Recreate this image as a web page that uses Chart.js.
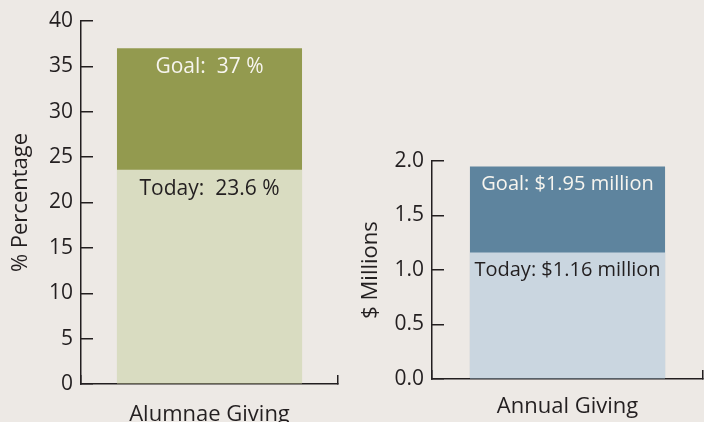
<!DOCTYPE html>
<html>
<head>
<meta charset="utf-8">
<script src="https://cdn.jsdelivr.net/npm/chart.js@4.4.0/dist/chart.umd.min.js"></script>
<style>
  html, body { margin: 0; padding: 0; background: #ede9e5; overflow: hidden; }
  #wrap { position: relative; width: 704px; height: 422px; }
  canvas { position: absolute; top: 0; }
  #alumnaeChart { left: 0; }
  #annualChart { left: 350px; }
</style>
</head>
<body>
<div id="wrap">
  <canvas id="alumnaeChart" width="350" height="422"></canvas>
  <canvas id="annualChart" width="354" height="422"></canvas>
</div>
<script>
// left panel
const alumnaeCategories = ['Alumnae Giving'];
const alumnaeToday = [23.6];
const alumnaeGoal = [37];
const alumnaeText = ['Today:  23.6 %', 'Goal:  37 %'];
const pctTicks = [0, 5, 10, 15, 20, 25, 30, 35, 40];

// right panel
const annualCategories = ['Annual Giving'];
const annualToday = [1.16];
const annualGoal = [1.95];
const annualText = ['Today: $1.16 million', 'Goal: $1.95 million'];
const millionTicks = [0, 0.5, 1, 1.5, 2];

const FONT = "'Open Sans', sans-serif";
const INK = '#231f20';

Chart.defaults.font.family = FONT;
Chart.defaults.color = INK;

// writes the Today/Goal text just under the top of each bar
const barText = {
    id: 'barText',
    afterDatasetsDraw(chart, args, opts) {
        const ctx = chart.ctx;
        ctx.save();
        ctx.font = opts.size + 'px ' + FONT;
        ctx.textAlign = 'center';
        ctx.textBaseline = 'middle';
        chart.data.datasets.forEach((ds, i) => {
            const bar = chart.getDatasetMeta(i).data[0];
            ctx.fillStyle = ds.textColor;
            ctx.fillText(ds.label, bar.x, bar.y + opts.offset);
        });
        ctx.restore();
    }
};

function makeChart(id, cfg) {
    return new Chart(document.getElementById(id), {
        type: 'bar',
        data: {
            labels: cfg.categories,
            datasets: [{
                label: cfg.text[0],
                data: cfg.today,
                backgroundColor: cfg.colors[0],
                textColor: INK,
                barPercentage: 0.72,
                categoryPercentage: 1
            }, {
                label: cfg.text[1],
                data: cfg.goal,
                backgroundColor: cfg.colors[1],
                textColor: '#f7f5ef',
                barPercentage: 0.72,
                categoryPercentage: 1
            }]
        },
        options: {
            responsive: false,
            animation: false,
            layout: { padding: cfg.padding },
            plugins: {
                legend: { display: false },
                tooltip: { enabled: false },
                barText: { size: cfg.textSize, offset: cfg.textOffset }
            },
            scales: {
                x: {
                    stacked: true,
                    grid: { drawOnChartArea: false, tickLength: -9, color: INK, lineWidth: 1.5, offset: true },
                    border: { color: INK, width: 1.5 },
                    ticks: { font: { size: 22 }, padding: cfg.xPad, color: INK },
                    afterFit: s => { s.height = cfg.xHeight; }
                },
                y: {
                    min: 0,
                    max: cfg.ticks[cfg.ticks.length - 1],
                    grid: { drawOnChartArea: false, tickLength: -12, color: INK, lineWidth: 1.5 },
                    border: { color: INK, width: 1.5 },
                    ticks: { font: { size: 21 }, padding: 20, color: INK, callback: cfg.fmt },
                    afterBuildTicks: s => { s.ticks = cfg.ticks.map(v => ({ value: v })); },
                    afterFit: s => {
                        s.width = cfg.yWidth;
                        s.paddingTop = 0;
                        s.paddingBottom = 0;
                    },
                    title: { display: true, text: cfg.title, font: { size: 22 }, padding: { top: 8, bottom: 0 }, color: INK }
                }
            }
        },
        plugins: [barText]
    });
}

makeChart('alumnaeChart', {
    categories: alumnaeCategories,
    today: alumnaeToday,
    goal: alumnaeGoal,
    text: alumnaeText,
    ticks: pctTicks,
    title: '% Percentage',
    colors: ['#d9dcc1', '#939a4f'],
    fmt: v => String(v),
    padding: { top: 21, right: 12, left: 0, bottom: 0 },
    textSize: 21,
    textOffset: 19,
    xHeight: 38,
    xPad: 27,
    yWidth: 81
});

makeChart('annualChart', {
    categories: annualCategories,
    today: annualToday,
    goal: annualGoal,
    text: annualText,
    ticks: millionTicks,
    title: '$ Millions',
    colors: ['#cad6e0', '#5e849e'],
    fmt: v => v.toFixed(1),
    padding: { top: 161, right: 1, left: 0, bottom: 0 },
    textSize: 20,
    textOffset: 18,
    xHeight: 43,
    xPad: 24,
    yWidth: 82
});
</script>
</body>
</html>
